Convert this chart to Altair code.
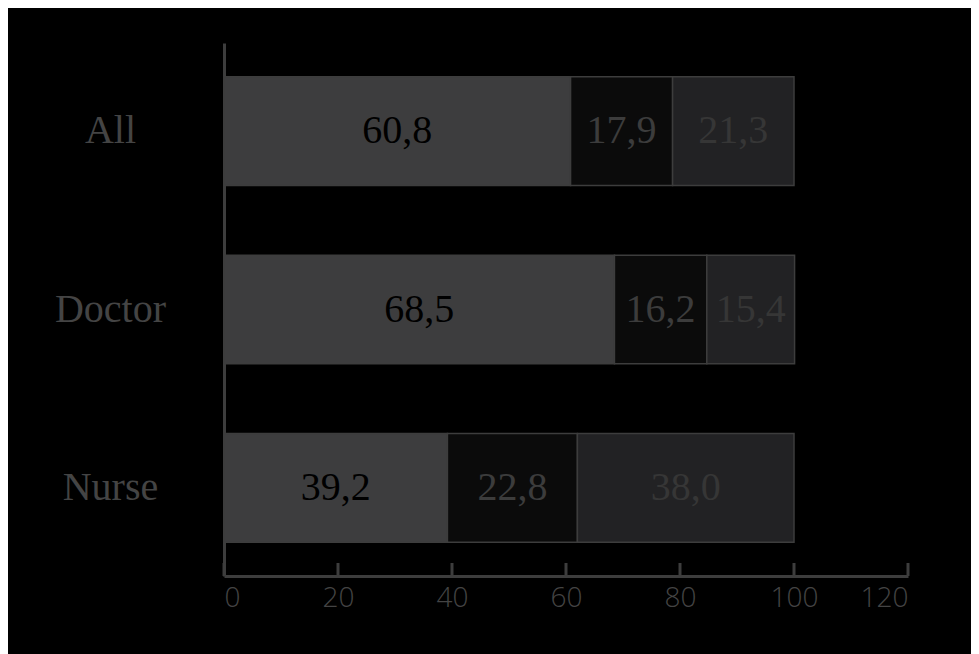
import altair as alt
import pandas as pd

groups = ["All", "Doctor", "Nurse"]
seg_names = ["A", "B", "C"]
seg_a = [60.8, 68.5, 39.2]
seg_b = [17.9, 16.2, 22.8]
seg_c = [21.3, 15.4, 38.0]
tick_values = [0, 20, 40, 60, 80, 100, 120]

rows = []
for i, g in enumerate(groups):
    start = 0.0
    for s, vals in zip(seg_names, [seg_a, seg_b, seg_c]):
        v = vals[i]
        rows.append({
            "group": g, "seg": s, "value": v,
            "start": start, "end": start + v, "mid": start + v / 2,
            "label": f"{v:.1f}".replace(".", ","),
        })
        start += v
df = pd.DataFrame(rows)
ticks_df = pd.DataFrame({"t": tick_values})

W, H = 684, 533
axis_col = "#3d3d3d"

xscale = alt.Scale(domain=[0, 120], nice=False, zero=True)
yscale = alt.Scale(domain=groups, paddingInner=0.39, paddingOuter=0.19)

bars = alt.Chart(df).mark_bar(stroke=axis_col, strokeWidth=1.5).encode(
    y=alt.Y("group:N", scale=yscale, sort=groups, title=None,
            axis=alt.Axis(domain=True, domainColor=axis_col, domainWidth=3,
                          ticks=False, labelFont="Liberation Serif",
                          labelFontSize=40, labelColor="#444444",
                          labelAlign="center", labelPadding=114,
                          labelBaseline="middle")),
    x=alt.X("start:Q", scale=xscale, title=None,
            axis=alt.Axis(values=tick_values, domain=True, domainColor=axis_col,
                          domainWidth=3, ticks=False, grid=False,
                          labelFont="Open Sans", labelFontSize=28,
                          labelFontWeight=300,
                          labelColor="#444444", labelPadding=8)),
    x2="end:Q",
    color=alt.Color("seg:N", scale=alt.Scale(domain=seg_names,
                                             range=["#3d3d3e", "#0b0b0b", "#222224"]),
                    legend=None),
)

texts = alt.Chart(df).mark_text(font="Liberation Serif", fontSize=40,
                                baseline="middle", align="center").encode(
    y=alt.Y("group:N", scale=yscale, sort=groups),
    x=alt.X("mid:Q", scale=xscale),
    text="label:N",
    color=alt.Color("seg:N", scale=alt.Scale(domain=seg_names,
                                             range=["#000000", "#3c3c3c", "#363636"]),
                    legend=None),
)

tick_rules = alt.Chart(ticks_df).mark_rule(color=axis_col, strokeWidth=3).encode(
    x=alt.X("t:Q", scale=xscale),
    y=alt.value(H),
    y2=alt.value(H - 13),
)

chart = alt.layer(bars, texts, tick_rules).resolve_scale(color="independent").properties(
    width=W, height=H,
    autosize=alt.AutoSizeParams(type="none"),
    padding={"left": 216, "top": 35, "right": 63, "bottom": 78},
    background="black",
).configure_view(stroke=None)

chart.save("out.html", embed_options={"renderer": "svg", "actions": False})
